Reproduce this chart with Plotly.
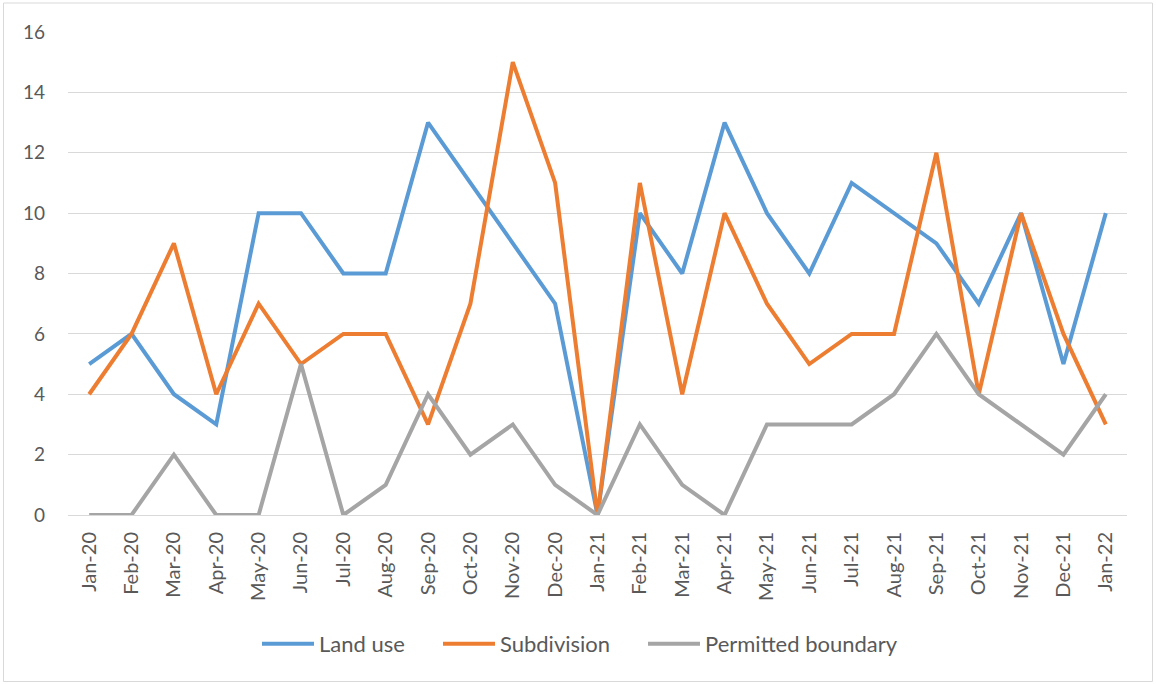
import plotly.graph_objects as go

months = ["Jan-20", "Feb-20", "Mar-20", "Apr-20", "May-20", "Jun-20", "Jul-20", "Aug-20",
          "Sep-20", "Oct-20", "Nov-20", "Dec-20", "Jan-21", "Feb-21", "Mar-21", "Apr-21",
          "May-21", "Jun-21", "Jul-21", "Aug-21", "Sep-21", "Oct-21", "Nov-21", "Dec-21", "Jan-22"]
land_use = [5, 6, 4, 3, 10, 10, 8, 8, 13, 11, 9, 7, 0, 10, 8, 13, 10, 8, 11, 10, 9, 7, 10, 5, 10]
subdivision = [4, 6, 9, 4, 7, 5, 6, 6, 3, 7, 15, 11, 0, 11, 4, 10, 7, 5, 6, 6, 12, 4, 10, 6, 3]
permitted_boundary = [0, 0, 2, 0, 0, 5, 0, 1, 4, 2, 3, 1, 0, 3, 1, 0, 3, 3, 3, 4, 6, 4, 3, 2, 4]
y_ticks = [0, 2, 4, 6, 8, 10, 12, 14, 16]

W, H = 1156, 684
L, R, T, B = 68, 29, 32, 169
pw, ph = W - L - R, H - T - B

series = [("Land use", land_use, "#5B9BD5", "legend", 263),
          ("Subdivision", subdivision, "#ED7D31", "legend2", 444),
          ("Permitted boundary", permitted_boundary, "#A5A5A5", "legend3", 649)]

fig = go.Figure()
for name, vals, col, lg, _ in series:
    fig.add_trace(go.Scatter(x=months, y=vals, name=name, mode="lines",
                             line=dict(color=col, width=4), legend=lg))

font_family = "Lato, 'Open Sans', 'Liberation Sans', sans-serif"
legend_y = (T + ph - 644) / ph
legends = {}
for name, vals, col, lg, px in series:
    legends[lg] = dict(orientation="h", x=(px - 6 - L) / pw, xanchor="left",
                       y=legend_y, yanchor="middle",
                       font=dict(size=22, color="#595959"), itemwidth=52,
                       bgcolor="rgba(0,0,0,0)")

fig.update_layout(
    width=W, height=H,
    margin=dict(l=L, r=R, t=T, b=B, autoexpand=False),
    paper_bgcolor="white", plot_bgcolor="white",
    font=dict(family=font_family, color="#595959", size=18),
    showlegend=True,
    xaxis=dict(type="category", tickangle=-90, showgrid=False, showline=False,
               ticks="", tickfont=dict(size=20, color="#595959"),
               ticklabelstandoff=12,
               range=[-0.5, len(months) - 0.5]),
    yaxis=dict(range=[0, 16], tickvals=y_ticks, showgrid=True, gridcolor="#D9D9D9",
               gridwidth=1, zeroline=True, zerolinecolor="#D9D9D9", zerolinewidth=1,
               showline=False, ticks="", ticklabelstandoff=22,
               tickfont=dict(size=19, color="#595959")),
    shapes=[dict(type="rect", xref="paper", yref="paper",
                 x0=(3.5 - L) / pw, x1=(W - 3.5 - L) / pw,
                 y0=(T + ph - (H - 2.5)) / ph, y1=(T + ph - 3) / ph,
                 line=dict(color="#D9D9D9", width=1), fillcolor="rgba(0,0,0,0)",
                 layer="below")],
    **legends,
)

fig.write_html("out.html", config={"displayModeBar": False},
               post_script="document.body.style.margin='0';document.body.style.overflow='hidden';")
